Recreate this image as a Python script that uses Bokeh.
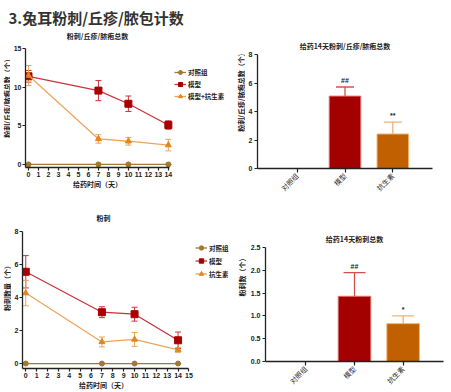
import math
from bokeh.plotting import figure
from bokeh.models import (ColumnDataSource, Whisker, TeeHead, FixedTicker, Range1d, FactorRange,
                          Legend, LegendItem, Label, NumeralTickFormatter)
from bokeh.layouts import column, row
from bokeh.embed import file_html
from bokeh.resources import INLINE
from bokeh.core.properties import value

# ---------------- data ----------------
page_title = "3.兔耳粉刺/丘疹/脓包计数"

days = [0, 7, 10, 14]

# chart 1: total lesions over time
total_title = "粉刺/丘疹/脓疱总数"
total_ylabel = "粉刺/丘疹/脓疱总数（个）"
total_names = ["对照组", "模型", "模型+抗生素"]
total_control = [0, 0, 0, 0]
total_control_err = [0, 0, 0, 0]
total_model = [11.4, 9.55, 7.85, 5.1]
total_model_err = [0.75, 1.3, 1.0, 0.55]
total_abx = [11.5, 3.3, 3.0, 2.5]
total_abx_err = [1.3, 0.55, 0.5, 0.75]

# chart 2: day-14 totals
groups = ["对照组", "模型", "抗生素"]
d14_total_title = "给药14天粉刺/丘疹/脓疱总数"
d14_total = [0, 5.08, 2.42]
d14_total_err = [0, 0.64, 0.83]
d14_total_sig = ["", "##", "**"]

# chart 3: comedones over time
com_title = "粉刺"
com_ylabel = "粉刺数量（个）"
com_names = ["对照组", "模型", "抗生素"]
com_control = [0, 0, 0, 0]
com_control_err = [0, 0, 0, 0]
com_model = [5.56, 3.11, 2.99, 1.41]
com_model_err = [0.98, 0.33, 0.42, 0.5]
com_abx = [4.27, 1.31, 1.46, 0.83]
com_abx_err = [0.77, 0.3, 0.42, 0.15]

# chart 4: day-14 comedones
d14_com_title = "给药14天粉刺总数"
d14_com_ylabel = "粉刺数（个）"
d14_com = [0, 1.43, 0.83]
d14_com_err = [0, 0.52, 0.17]
d14_com_sig = ["", "##", "*"]

xlabel = "给药时间（天）"

# ---------------- styles ----------------
CJK = "Noto Sans CJK SC"
NUM = "Liberation Sans"
AX = "#222222"
C_CTRL = "#A07830"
C_MODEL_LINE = "#C8343C"
C_MODEL_MK = "#A80000"
C_ABX_LINE = "#EDA55A"
C_ABX_MK = "#E0861E"
BAR_FILL = ["#A30000", "#A30000", "#C06000"]
BAR_EDGE = ["#E07070", "#E07070", "#F0B070"]
ERR_COL = ["#D05050", "#D05050", "#F0B070"]


def text_fig(w, h, text, x, y, size="7px", angle=0.0, align="center", baseline="middle",
             color=AX):
    f = figure(width=w, height=h, x_range=Range1d(0, 1), y_range=Range1d(0, 1),
               output_backend="svg", toolbar_location=None,
               min_border_left=0, min_border_right=0, min_border_top=0, min_border_bottom=0)
    f.axis.visible = False
    f.grid.visible = False
    f.outline_line_color = None
    f.add_layout(Label(x=x, y=y, x_units="screen", y_units="screen", text=text, angle=angle,
                       text_font=CJK, text_font_style="bold", text_font_size=size,
                       text_color=color, text_align=align, text_baseline=baseline))
    return f


def style_axes(p, std=2):
    for ax in (p.xaxis, p.yaxis):
        ax.axis_line_color = AX
        ax.axis_line_width = 1.3
        ax.major_tick_line_color = AX
        ax.major_tick_line_width = 1.2
        ax.major_tick_out = 3
        ax.major_tick_in = 0
        ax.minor_tick_line_color = None
        ax.major_label_text_font = NUM
        ax.major_label_text_font_style = "bold"
        ax.major_label_text_font_size = "7px"
        ax.major_label_text_color = AX
        ax.major_label_standoff = std
    p.xgrid.visible = False
    p.ygrid.visible = False
    p.outline_line_color = None
    p.title.text_font = CJK
    p.title.text_font_style = "bold"
    p.title.text_font_size = "7px"
    p.title.text_color = AX
    p.title.align = "center"


def line_chart(width, height, borders, xr, yr, xticks, yticks, xb, series, names,
               legend_loc, item_h):
    bl, br, bt, bb = borders
    p = figure(width=width, height=height, x_range=Range1d(*xr), y_range=Range1d(*yr),
               output_backend="svg", toolbar_location=None,
               min_border_left=bl, min_border_right=br, min_border_top=bt, min_border_bottom=bb)
    style_axes(p, std=1)
    p.xaxis.bounds = xb
    p.xaxis.ticker = FixedTicker(ticks=xticks)
    p.yaxis.ticker = FixedTicker(ticks=yticks)
    items = []
    for (vals, errs, lc, mc, marker, msize), name in zip(series, names):
        src = ColumnDataSource(dict(x=days, y=vals,
                                    lo=[v - e for v, e in zip(vals, errs)],
                                    hi=[v + e for v, e in zip(vals, errs)]))
        lr = p.line("x", "y", source=src, line_color=lc, line_width=1.3)
        w = Whisker(source=src, base="x", lower="lo", upper="hi", dimension="height",
                    line_color=lc, line_width=1,
                    lower_head=TeeHead(size=6, line_color=lc, line_width=1),
                    upper_head=TeeHead(size=6, line_color=lc, line_width=1))
        p.add_layout(w)
        sr = p.scatter("x", "y", source=src, marker=marker, size=msize,
                       fill_color=mc, line_color=mc)
        items.append(LegendItem(label=name, renderers=[lr, sr]))
    leg = Legend(items=items, location=legend_loc, glyph_width=12, glyph_height=item_h,
                 label_height=item_h, spacing=2, padding=2, margin=0, label_standoff=2,
                 border_line_color=None, background_fill_alpha=0,
                 label_text_font=CJK, label_text_font_style="bold",
                 label_text_font_size="6.5px", label_text_color=AX)
    p.add_layout(leg, "center")
    return p


def bar_chart(width, height, borders, ymax, yticks, title, vals, errs, sigs,
              bw, cap, title_standoff, fmt=None):
    bl, br, bt, bb = borders
    p = figure(width=width, height=height,
               x_range=FactorRange(factors=groups, range_padding=0.33, range_padding_units="absolute"),
               y_range=Range1d(0, ymax), output_backend="svg", toolbar_location=None, title=title,
               min_border_left=bl, min_border_right=br, min_border_top=bt, min_border_bottom=bb)
    style_axes(p)
    p.title.standoff = title_standoff
    p.yaxis.ticker = FixedTicker(ticks=yticks)
    if fmt:
        p.yaxis.formatter = NumeralTickFormatter(format=fmt)
    p.xaxis.major_label_orientation = math.pi / 4
    p.xaxis.major_label_text_font = CJK
    p.xaxis.major_label_text_font_style = "normal"
    p.xaxis.major_tick_out = 4
    src = ColumnDataSource(dict(x=groups, top=vals, hi=[v + e for v, e in zip(vals, errs)],
                                fill=BAR_FILL, edge=BAR_EDGE, err=ERR_COL, sig=sigs))
    for i in (1, 2):
        wsrc = ColumnDataSource(dict(x=[groups[i]], lo=[vals[i]], hi=[vals[i] + errs[i]]))
        w = Whisker(source=wsrc, base="x", lower="lo", upper="hi", dimension="height",
                    line_color=ERR_COL[i], line_width=1.3, lower_head=None,
                    upper_head=TeeHead(size=cap, line_color=ERR_COL[i], line_width=1.3))
        p.add_layout(w)
    p.vbar(x="x", top="top", width=bw, source=src, fill_color="fill", line_color="edge",
           line_width=1)
    p.text(x="x", y="hi", text="sig", source=src, y_offset=-3, text_align="center",
           text_baseline="bottom", text_font=value(NUM), text_font_style="bold",
           text_font_size="7px", text_color=AX)
    return p


# header
hdr = text_fig(451, 28, page_title, 8, 22, size="15px", align="left", baseline="top",
               color="#333333")

# ---- top-left: totals over time ----
tA = text_fig(225, 15, total_title, 97, 8)
yA = text_fig(10, 136, total_ylabel, 6, 71, angle=math.pi / 2)
pA = line_chart(215, 136, (12, 0, 5, 12), (-0.3, 19.72), (-0.4, 15),
                list(range(0, 15)), [0, 5, 10, 15], (-0.3, 14.15),
                [(total_control, total_control_err, C_CTRL, C_CTRL, "circle", 5),
                 (total_model, total_model_err, C_MODEL_LINE, C_MODEL_MK, "square", 7),
                 (total_abx, total_abx_err, C_ABX_LINE, C_ABX_MK, "triangle", 6)],
                total_names, (149, 66), 10)
xA = text_fig(225, 21, xlabel, 97, 17)

# ---- top-right: day-14 totals ----
yB = text_fig(20, 172, total_ylabel, 15, 78, angle=math.pi / 2)
pB = bar_chart(206, 172, (10, 19, 26, 32), 8, [0, 2, 4, 6, 8], d14_total_title,
               d14_total, d14_total_err, d14_total_sig, 0.66, 18, 7)

# ---- bottom-left: comedones over time ----
tC = text_fig(236, 26, com_title, 103, 9)
yC = text_fig(11, 154, com_ylabel, 6.5, 82, angle=math.pi / 2)
pC = line_chart(225, 154, (9, 0, 5, 12), (-0.3, 19.37), (-0.3, 8),
                list(range(0, 16)), [0, 2, 4, 6, 8], (-0.3, 15),
                [(com_control, com_control_err, C_CTRL, C_CTRL, "circle", 5),
                 (com_model, com_model_err, C_MODEL_LINE, C_MODEL_MK, "square", 7),
                 (com_abx, com_abx_err, C_ABX_LINE, C_ABX_MK, "triangle", 6)],
                com_names, (173, 89), 11)
xC = text_fig(236, 12, xlabel, 103, 8)

# ---- bottom-right: day-14 comedones ----
yD = text_fig(11, 192, d14_com_ylabel, 5, 86, angle=math.pi / 2)
pD = bar_chart(204, 192, (16, 8, 47, 29), 2.5, [0, 0.5, 1.0, 1.5, 2.0, 2.5], d14_com_title,
               d14_com, d14_com_err, d14_com_sig, 0.67, 22, 8, fmt="0.0")

layout = column(hdr,
                row(column(tA, row(yA, pA), xA), yB, pB),
                row(column(tC, row(yC, pC), xC), yD, pD))
open("out.html", "w").write(file_html(layout, INLINE))
